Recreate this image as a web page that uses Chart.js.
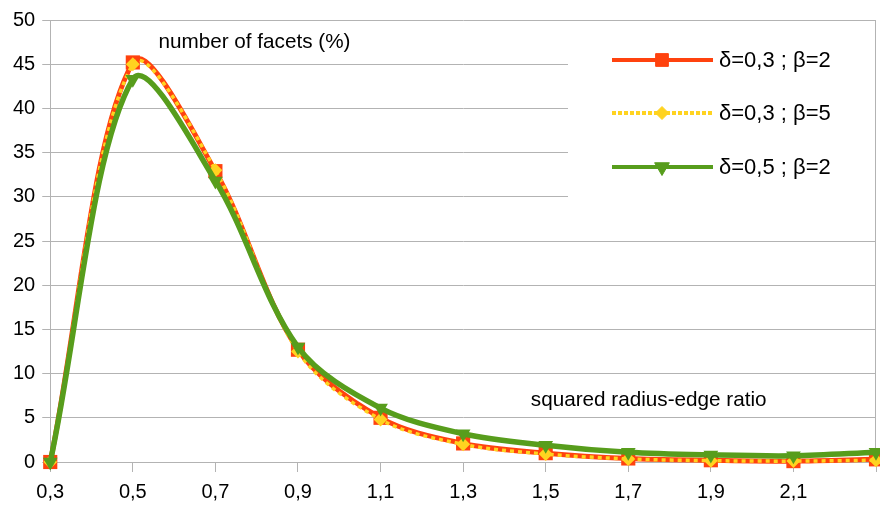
<!DOCTYPE html>
<html><head><meta charset="utf-8">
<script src="https://cdn.jsdelivr.net/npm/chart.js@4.4.0/dist/chart.umd.min.js"></script>
<style>html,body{margin:0;padding:0;background:#fff;overflow:hidden}</style>
</head><body>
<canvas id="c" width="880" height="507"></canvas>
<script>
// ---- data ----
const categories = ["0,3","0,5","0,7","0,9","1,1","1,3","1,5","1,7","1,9","2,1","2,3"];
const tickLabels = ["0,3","0,5","0,7","0,9","1,1","1,3","1,5","1,7","1,9","2,1",""];
const seriesNames = ["δ=0,3 ; β=2","δ=0,3 ; β=5","δ=0,5 ; β=2"];
const redValues    = [0, 45.2, 32.9, 12.7, 5.0, 2.1, 1.0, 0.4, 0.2, 0.1, 0.3];
const yellowValues = [0, 45.0, 33.0, 12.5, 4.8, 2.0, 0.9, 0.35, 0.15, 0.1, 0.2];
const greenValues  = [0, 43.3, 31.8, 13.0, 6.1, 3.2, 1.9, 1.1, 0.8, 0.7, 1.1];
const yMin = 0, yMax = 50, yStep = 5;
const yTitle = "number of facets (%)";
const xTitle = "squared radius-edge ratio";

const RED = '#ff420e', YEL = '#ffd320', GRN = '#579d1c', GRID = '#b3b3b3';
const FONT = '"Liberation Sans", Arial, sans-serif';

const overlay = {
  id: 'overlay',
  beforeDatasetsDraw(chart) {
    const {ctx, chartArea: a} = chart;
    ctx.save();
    ctx.strokeStyle = GRID; ctx.lineWidth = 1;
    ctx.beginPath(); ctx.moveTo(a.right - 0.5, a.top); ctx.lineTo(a.right - 0.5, a.bottom); ctx.stroke();
    ctx.fillStyle = '#fff';
    ctx.fillRect(568, a.top + 1, a.right - 1 - 568, 195);
    ctx.restore();
  },
  afterDatasetsDraw(chart) {
    const {ctx, chartArea: a, scales} = chart;
    ctx.save();
    ctx.fillStyle = '#000';
    ctx.font = '20.7px ' + FONT;
    ctx.textBaseline = 'middle';
    ctx.textAlign = 'left';
    ctx.fillText(yTitle, scales.x.getPixelForValue(1.31), scales.y.getPixelForValue(47.5));
    ctx.fillText(xTitle, scales.x.getPixelForValue(5.82), scales.y.getPixelForValue(7.0));
    const rows = [a.top + 40, a.top + 93, a.top + 147];
    const ds = chart.data.datasets;
    rows.forEach((y, i) => {
      const d = ds[i];
      ctx.save();
      ctx.strokeStyle = d.borderColor;
      ctx.lineWidth = 4;
      ctx.setLineDash(i === 1 ? [4, 2] : []);
      ctx.beginPath(); ctx.moveTo(612, y); ctx.lineTo(713, y); ctx.stroke();
      ctx.restore();
      ctx.fillStyle = d.borderColor;
      ctx.strokeStyle = d.borderColor;
      Chart.helpers.drawPoint(ctx, {pointStyle: d.pointStyle, rotation: d.pointRotation || 0, radius: d.legendRadius, borderWidth: 1}, 662, y);
      ctx.fillStyle = '#000';
      ctx.font = '22px ' + FONT;
      ctx.fillText(seriesNames[i], 719, y + 1);
    });
    ctx.restore();
  }
};

new Chart(document.getElementById('c'), {
  type: 'line',
  data: {
    labels: categories,
    datasets: [
      {label: seriesNames[0], data: redValues, borderColor: RED, backgroundColor: RED,
       borderWidth: 5, pointStyle: 'rect', pointRadius: 10, pointBorderWidth: 0,
       pointBackgroundColor: RED, tension: 0.33, order: 2, legendRadius: 9, clip: false},
      {label: seriesNames[1], data: yellowValues, borderColor: YEL, backgroundColor: YEL,
       borderWidth: 3.5, borderDash: [4, 4], pointStyle: 'rectRot', pointRadius: 7, pointBorderWidth: 0,
       pointBackgroundColor: YEL, tension: 0.33, order: 1, legendRadius: 6.5, clip: false},
      {label: seriesNames[2], data: greenValues, borderColor: GRN, backgroundColor: GRN,
       borderWidth: 5.5, pointStyle: 'triangle', pointRotation: 180, pointRadius: 8.5, pointBorderWidth: 0,
       pointBackgroundColor: GRN, tension: 0.33, order: 0, legendRadius: 8.5, clip: false}
    ]
  },
  options: {
    responsive: false,
    animation: false,
    devicePixelRatio: 1,
    layout: {autoPadding: false, padding: {left: 6, right: 4, top: 20, bottom: 0}},
    plugins: {legend: {display: false}, tooltip: {enabled: false}},
    scales: {
      x: {
        offset: false,
        afterFit: (s) => { s.paddingRight = 0; s.height = 45; },
        grid: {display: true, drawOnChartArea: false, drawTicks: true, tickLength: 10, color: GRID},
        border: {color: GRID},
        ticks: {color: '#000', font: {family: FONT, size: 20, lineHeight: 1.0}, padding: 10, maxRotation: 0, autoSkip: false,
                callback: (v, i) => tickLabels[i]}
      },
      y: {
        min: yMin, max: yMax,
        grid: {color: GRID, tickLength: 8},
        border: {color: GRID},
        ticks: {stepSize: yStep, color: '#000', font: {family: FONT, size: 20}, padding: 7}
      }
    }
  },
  plugins: [overlay]
});
</script>
</body></html>
